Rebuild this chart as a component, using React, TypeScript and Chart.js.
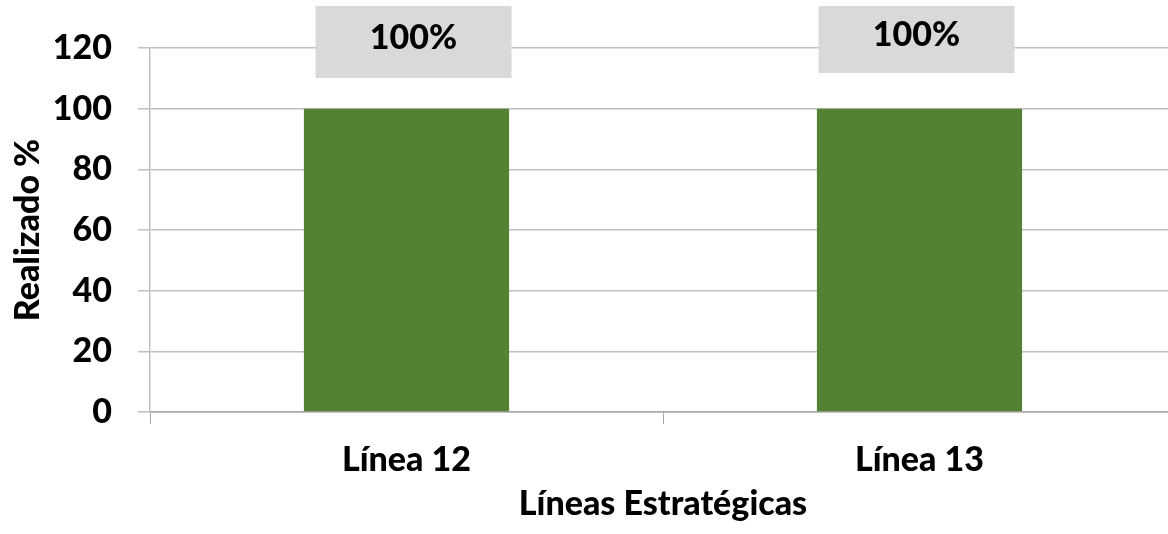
import React, { useEffect, useRef } from "react";
import { Chart, registerables } from "chart.js";

Chart.register(...registerables);

const categories = ["Línea 12", "Línea 13"];
const realizado = [100, 100];
const labelTexts = ["100%", "100%"];
const yTitle = "Realizado %";
const xTitle = "Líneas Estratégicas";

const FONT = "Lato, 'Open Sans', sans-serif";
const SIZE = 34;
const WEIGHT = 900;

const labelBoxPlugin = {
  id: "labelBoxes",
  afterDatasetsDraw(chart: any) {
    const ctx = chart.ctx;
    const meta = chart.getDatasetMeta(0);
    const dx = [7, -3];
    const heights = [72, 67];
    meta.data.forEach((bar: any, i: number) => {
      const w = 196;
      const h = heights[i] ?? 70;
      const cx = bar.x + (dx[i] ?? 0);
      const top = 6;
      ctx.save();
      ctx.fillStyle = "#d9d9d9";
      ctx.fillRect(cx - w / 2, top, w, h);
      ctx.fillStyle = "#000";
      ctx.font = `${WEIGHT} ${SIZE}px ${FONT}`;
      ctx.textAlign = "center";
      ctx.textBaseline = "middle";
      ctx.fillText(labelTexts[i], cx, top + h / 2 - 4);
      ctx.restore();
    });
  },
};

export default function App() {
  const ref = useRef<HTMLCanvasElement>(null);
  useEffect(() => {
    document.body.style.margin = "0";
    const font = { family: FONT, size: SIZE, weight: WEIGHT as any };
    const chart = new Chart(ref.current!, {
      type: "bar",
      data: {
        labels: categories,
        datasets: [
          {
            data: realizado,
            backgroundColor: "#548235",
            barPercentage: 0.4,
            categoryPercentage: 1,
          },
        ],
      },
      plugins: [labelBoxPlugin],
      options: {
        responsive: false,
        animation: false,
        layout: { padding: { top: 48, right: 0, left: 0, bottom: 0 } },
        plugins: { legend: { display: false }, tooltip: { enabled: false } },
        scales: {
          x: {
            afterFit(scale: any) {
              scale.height = 122;
            },
            grid: {
              display: true,
              offset: true,
              drawOnChartArea: false,
              drawTicks: true,
              tickLength: 12,
              color: "#a6a6a6",
            },
            border: { display: true, color: "#a6a6a6", width: 1.5 },
            ticks: {
              color: "#000",
              padding: 16,
              font,
            },
            title: {
              display: true,
              text: xTitle,
              color: "#000",
              padding: { top: 0, bottom: 10 },
              font,
            },
          },
          y: {
            min: 0,
            max: 120,
            afterFit(scale: any) {
              scale.width = 150;
            },
            ticks: {
              stepSize: 20,
              color: "#000",
              padding: 26,
              font,
            },
            grid: {
              color: "#c0c0c0",
              lineWidth: 1.5,
              tickLength: 12,
              drawTicks: true,
            },
            border: { display: true, color: "#c0c0c0", width: 1.5 },
            title: {
              display: true,
              text: yTitle,
              color: "#000",
              padding: { top: 8, bottom: 0 },
              font,
            },
          },
        },
      },
    });
    return () => chart.destroy();
  }, []);
  return (
    <div style={{ position: "absolute", left: 0, top: 0, width: 1168, height: 534, overflow: "hidden", background: "#fff" }}>
      <canvas ref={ref} width={1176} height={534} style={{ width: 1176, height: 534 }} />
    </div>
  );
}
